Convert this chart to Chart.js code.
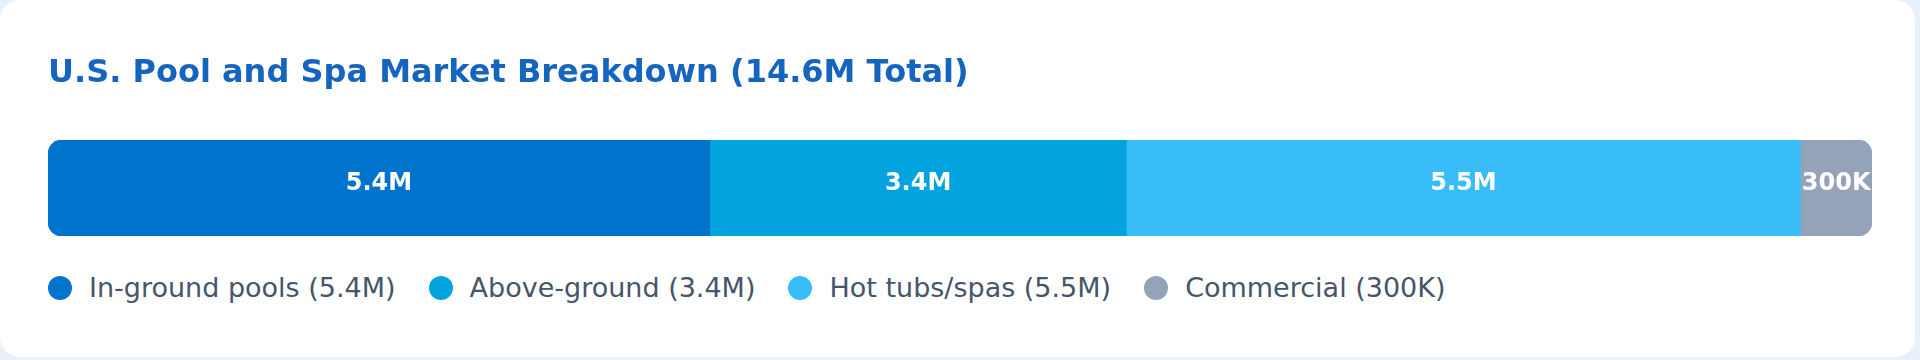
<!DOCTYPE html>
<html>
<head>
<meta charset="utf-8">
<script src="https://cdn.jsdelivr.net/npm/chart.js@4.4.1/dist/chart.umd.min.js"></script>
<style>
    html, body {
        margin: 0;
        padding: 0;
        width: 1920px;
        height: 360px;
        background: #e8f0fa;
        overflow: hidden;
        font-family: 'DejaVu Sans', sans-serif;
    }
    .card {
        position: absolute;
        left: 0;
        top: 0;
        width: 1915px;
        height: 357px;
        background: #ffffff;
        border-radius: 20px;
    }
    .chart-box {
        position: absolute;
        left: 0;
        top: 0;
        width: 1915px;
        height: 260px;
    }
    .legend {
        position: absolute;
        left: 48px;
        top: 272px;
        display: flex;
        gap: 33px;
        font-size: 27px;
        line-height: 32px;
        color: #475569;
        white-space: nowrap;
    }
    .legend-item {
        display: flex;
        align-items: center;
        gap: 17px;
    }
    .legend-dot {
        width: 24px;
        height: 24px;
        border-radius: 50%;
    }
</style>
</head>
<body>
<div class="card">
    <div class="chart-box"><canvas id="marketChart"></canvas></div>
    <div class="legend" id="legend"></div>
</div>
<script>
// Market segments, values in millions of units
const categories = ['In-ground pools', 'Above-ground', 'Hot tubs/spas', 'Commercial'];
const values = [5.4, 3.4, 5.5, 0.3];
const colors = ['#0074cc', '#03a3e0', '#38bdf8', '#94a3b8'];

const totalLabel = 'U.S. Pool and Spa Market Breakdown (14.6M Total)';

// small segments get a minimum share so their label still fits
const minShare = 0.04;

function formatValue(v) {
    return v >= 1 ? v + 'M' : Math.round(v * 1000) + 'K';
}

const total = values.reduce((a, b) => a + b, 0);
const shares = values.map(v => Math.max(v / total, minShare));
const shareSum = shares.reduce((a, b) => a + b, 0);

// Labels in the middle of each segment
const segmentLabels = {
    id: 'segmentLabels',
    afterDatasetsDraw(chart) {
        const ctx = chart.ctx;
        ctx.save();
        ctx.font = 'bold 24px "DejaVu Sans"';
        ctx.fillStyle = '#ffffff';
        ctx.textAlign = 'center';
        ctx.textBaseline = 'middle';
        chart.data.datasets.forEach((ds, i) => {
            const bar = chart.getDatasetMeta(i).data[0];
            if (!bar) return;
            const p = bar.getCenterPoint();
            ctx.fillText(formatValue(values[i]), p.x, p.y - 4);
        });
        ctx.restore();
    }
};

const last = categories.length - 1;
const datasets = categories.map((name, i) => ({
    label: name,
    data: [shares[i]],
    backgroundColor: colors[i],
    borderWidth: 0,
    borderSkipped: false,
    borderRadius: {
        topLeft: i === 0 ? 14 : 0,
        bottomLeft: i === 0 ? 14 : 0,
        topRight: i === last ? 14 : 0,
        bottomRight: i === last ? 14 : 0
    },
    barThickness: 96
}));

new Chart(document.getElementById('marketChart'), {
    type: 'bar',
    data: {
        labels: ['Market'],
        datasets: datasets
    },
    options: {
        indexAxis: 'y',
        responsive: true,
        maintainAspectRatio: false,
        animation: false,
        layout: {
            padding: { top: 54, left: 48, right: 43, bottom: 24 }
        },
        scales: {
            x: { stacked: true, display: false, min: 0, max: shareSum },
            y: { stacked: true, display: false }
        },
        plugins: {
            legend: { display: false },
            tooltip: { enabled: false },
            title: {
                display: true,
                text: totalLabel,
                align: 'start',
                color: '#1565c0',
                font: { family: 'DejaVu Sans', size: 32, weight: 'bold', lineHeight: 1.2 },
                padding: { top: 0, bottom: 47.6 }
            }
        }
    },
    plugins: [segmentLabels]
});

// Legend
const legendEl = document.getElementById('legend');
legendEl.innerHTML = categories.map((name, i) =>
    `<div class="legend-item"><span class="legend-dot" style="background:${colors[i]}"></span><span>${name} (${formatValue(values[i])})</span></div>`
).join('');
</script>
</body>
</html>
